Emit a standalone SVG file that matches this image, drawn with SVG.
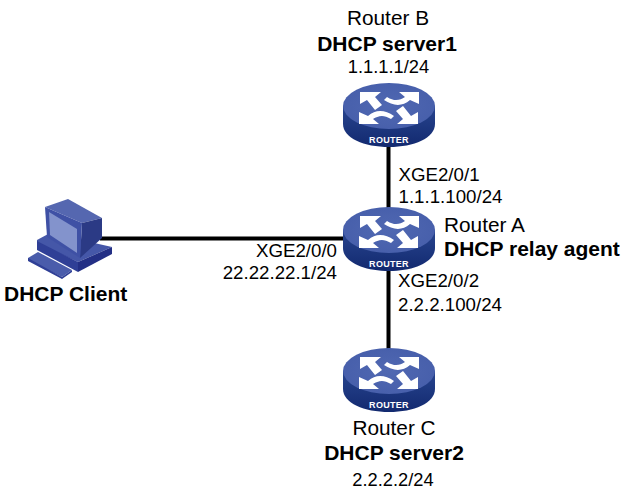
<svg xmlns="http://www.w3.org/2000/svg" width="626" height="494" viewBox="0 0 626 494">
<style>
text{font-family:"Liberation Sans",Arial,sans-serif;fill:#000}
.n{font-size:20.8px}
.l{font-size:18.7px}
.i{font-size:18.3px}
.b{font-weight:bold;font-size:21px}
.m{text-anchor:middle}
.e{text-anchor:end}
.link{stroke:#000;stroke-width:4;fill:none}
.rl{font-size:9px;font-weight:bold;fill:#fff;text-anchor:middle;letter-spacing:.3px}
</style>
<defs>
<linearGradient id="side" x1="0" x2="0" y1="0" y2="1"><stop offset="0" stop-color="#28458f"/><stop offset="1" stop-color="#12296f"/></linearGradient>
<radialGradient id="top" cx=".5" cy=".5" r=".6"><stop offset="0" stop-color="#5068b2"/><stop offset="1" stop-color="#465eaa"/></radialGradient>
<g id="router">
<path d="M-46 0V18C-46 32-25 41 0 41S46 32 46 18V0Z" fill="url(#side)"/>
<ellipse cx="0" cy="0" rx="46" ry="23" fill="url(#top)"/>
<g transform="translate(0,2)">
<g id="pair" fill="#fff">
<path d="M-29-16H-8L-14-11-7-3-14 2-22-8-29-4Z"/>
<path d="M30-16H10L16-11C11-8 6-6-2-11L-5-8C4-2 13-1 21-8L30-4Z"/>
</g>
<use href="#pair" transform="rotate(180)"/>
</g>
<text class="rl" x="0" y="37">ROUTER</text>
</g>
</defs>
<g id="connectors">
<line class="link" x1="388.500" y1="125" x2="388.500" y2="360"/>
<line class="link" x1="100" y1="238.500" x2="388" y2="238.500"/>
</g>
<g id="router-b"><use href="#router" x="389" y="106"/>
<text class="n m" x="388" y="24.500">Router B</text><text class="b m" x="387" y="50.500">DHCP server1</text><text class="i m" x="388.500" y="73">1.1.1.1/24</text></g>
<g id="router-a"><use href="#router" x="389" y="230"/>
<text class="n" x="444" y="232">Router A</text><text class="b" x="444" y="256">DHCP relay agent</text></g>
<g id="router-c"><use href="#router" x="389" y="371"/>
<text class="n m" x="394" y="435">Router C</text><text class="b m" x="394" y="460">DHCP server2</text><text class="i m" x="393" y="486">2.2.2.2/24</text></g>
<g id="client">
<path d="M28 258L38 252 72 270 62 277 28 260Z" fill="#4a5cab"/>
<path d="M28 258V261L62 279 72 272V270L62 277Z" fill="#2f3f96"/>
<path d="M37 240L50 233 112 247 78 262 37 243Z" fill="#4557a8"/>
<path d="M37 241L78 262V272L37 250Z" fill="#2f3f96"/>
<path d="M78 262L112 247V254L78 272Z" fill="#232f85"/>
<path d="M45 207L68 199 102 218 82 223Z" fill="#5567b0"/>
<path d="M82 223L102 218V238L80 258Z" fill="#2b3a85"/>
<path d="M45 207L82 223 80 258 47 237Z" fill="#3f51a5"/>
<path d="M49 212L77 229V253L50 235Z" fill="#8393cc"/>
<text class="b" x="4" y="300.500">DHCP Client</text></g>
<g id="labels">
<text class="l" x="398.500" y="181">XGE2/0/1</text><text class="l" x="398.500" y="203">1.1.1.100/24</text>
<text class="l e" x="337" y="257">XGE2/0/0</text><text class="l e" x="337" y="279">22.22.22.1/24</text>
<text class="l" x="398" y="287">XGE2/0/2</text><text class="l" x="398" y="310.500">2.2.2.100/24</text>
</g>
</svg>
